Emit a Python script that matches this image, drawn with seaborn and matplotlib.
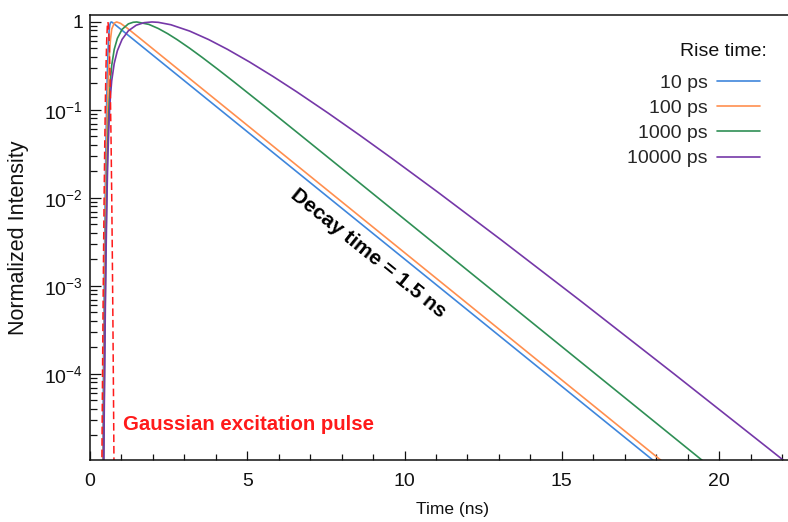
import matplotlib
matplotlib.use("Agg")
import matplotlib.pyplot as plt
import pandas as pd
import seaborn as sns
from matplotlib.ticker import FixedLocator, FixedFormatter, MultipleLocator, LogLocator, NullFormatter

# ---- data (time in ns, normalized intensity) ----
rise_labels = ["10 ps", "100 ps", "1000 ps", "10000 ps"]
colors = ["#3f86dc", "#ff8f4f", "#2f8f55", "#7538a8"]

t_10 = [0.39, 0.41, 0.43, 0.45, 0.47, 0.49, 0.51, 0.53, 0.55, 0.57, 0.59, 0.61,
        0.63, 0.65, 0.676, 0.71, 0.87, 18.57]
i_10 = [1.66e-6, 1.66e-5, 1.29e-4, 7.94e-4, 3.89e-3, 0.0151, 0.0479, 0.1216,
        0.2535, 0.4395, 0.6397, 0.8110, 0.9247, 0.9817, 1.0, 0.9872, 0.8880, 6.67e-6]

t_100 = [0.41, 0.43, 0.45, 0.47, 0.49, 0.51, 0.53, 0.55, 0.57, 0.61, 0.65, 0.69,
         0.77, 0.847, 0.97, 1.17, 1.57, 2.57, 18.57]
i_100 = [3.5e-6, 2.85e-5, 1.845e-4, 9.57e-4, 3.96e-3, 0.0134, 0.0368, 0.0843,
         0.1626, 0.3926, 0.6295, 0.8279, 0.9710, 1.0, 0.9649, 0.8580, 0.6588,
         0.3383, 7.88e-6]

t_1000 = [0.43, 0.45, 0.47, 0.49, 0.51, 0.53, 0.55, 0.57, 0.61, 0.65, 0.69, 0.77,
          0.87, 1.02, 1.22, 1.37, 1.486, 1.87, 2.17, 2.47, 2.77, 3.17, 3.57, 4.07,
          4.57, 5.57, 6.57, 8.07, 12.57, 20.07]
i_1000 = [7.24e-6, 4.68e-5, 2.45e-4, 1.047e-3, 3.60e-3, 0.01023, 0.02427, 0.04898,
          0.1271, 0.2193, 0.3206, 0.4875, 0.6516, 0.8241, 0.9515, 0.9918, 1.0,
          0.9389, 0.8433, 0.7357, 0.6298, 0.5022, 0.3948, 0.2887, 0.2094, 0.1088,
          0.05609, 0.02068, 1.030e-3, 6.94e-6]

t_10000 = [0.43, 0.45, 0.47, 0.49, 0.51, 0.53, 0.55, 0.57, 0.61, 0.65, 0.69, 0.77,
           0.87, 1.02, 1.22, 1.47, 1.72, 1.97, 2.17, 2.57, 3.17, 3.77, 4.37, 5.07,
           5.82, 6.57, 7.57, 8.57, 9.57, 11.07, 13.07, 15.57, 18.57, 21.57, 22.57]
i_10000 = [4.57e-6, 2.95e-5, 1.55e-4, 6.61e-4, 2.29e-3, 6.46e-3, 0.01549, 0.0309,
           0.0818, 0.1445, 0.2143, 0.3373, 0.4710, 0.6339, 0.7943, 0.9190, 0.9820,
           1.0, 0.9905, 0.9301, 0.7874, 0.6314, 0.4885, 0.3512, 0.2401, 0.1609,
           0.09215, 0.05175, 0.02863, 0.01154, 3.338e-3, 6.865e-4, 9.983e-5,
           1.421e-5, 7.39e-6]

t_pulse = [0.374, 0.39, 0.41, 0.43, 0.45, 0.47, 0.49, 0.51, 0.53, 0.55, 0.57,
           0.59, 0.61, 0.63, 0.65, 0.67, 0.69, 0.71, 0.73, 0.75, 0.766]
i_pulse = [6.2e-6, 4.0e-5, 3.36e-4, 2.19e-3, 0.0111, 0.0439, 0.1353, 0.3247,
           0.6065, 0.8825, 1.0, 0.8825, 0.6065, 0.3247, 0.1353, 0.0439, 0.0111,
           2.19e-3, 3.36e-4, 4.0e-5, 6.2e-6]

y_tick_vals = [1e-4, 1e-3, 1e-2, 1e-1, 1]
y_tick_labels = ["$10^{-4}$", "$10^{-3}$", "$10^{-2}$", "$10^{-1}$", "1"]

# ---- build long table ----
frames = []
for lab, t, i in zip(rise_labels, [t_10, t_100, t_1000, t_10000],
                     [i_10, i_100, i_1000, i_10000]):
    frames.append(pd.DataFrame({"Time": t, "Intensity": i, "Rise": lab}))
df = pd.concat(frames, ignore_index=True)
pulse = pd.DataFrame({"Time": t_pulse, "Intensity": i_pulse})

sns.set_theme(style="white")
plt.rcParams["font.family"] = ["Liberation Sans", "DejaVu Sans"]
plt.rcParams["mathtext.fontset"] = "custom"
plt.rcParams["mathtext.rm"] = "Liberation Sans"
plt.rcParams["mathtext.it"] = "Liberation Sans:italic"
plt.rcParams["mathtext.bf"] = "Liberation Sans:bold"

W, H = 788, 522
fig = plt.figure(figsize=(W / 100, H / 100), dpi=100)
ax = fig.add_axes([90 / W, 1 - 460 / H, 698 / W, 445 / H])

sns.lineplot(data=df, x="Time", y="Intensity", hue="Rise", hue_order=rise_labels,
             palette=colors, estimator=None, sort=False, linewidth=1.2, ax=ax,
             legend=False)
sns.lineplot(data=pulse, x="Time", y="Intensity", color="#ff1a1a", estimator=None,
             sort=False, linewidth=1.1, linestyle=(0, (5, 2.5)), ax=ax)

ax.set_yscale("log")
ax.set_xlim(0, 22.19)
ax.set_ylim(1.05e-5, 1.2)

ax.yaxis.set_major_locator(FixedLocator(y_tick_vals))
ax.yaxis.set_major_formatter(FixedFormatter(y_tick_labels))
ax.yaxis.set_minor_locator(LogLocator(base=10, subs=[2, 3, 4, 5, 6, 7, 8, 9], numticks=20))
ax.yaxis.set_minor_formatter(NullFormatter())
ax.xaxis.set_major_locator(MultipleLocator(5))
ax.xaxis.set_minor_locator(MultipleLocator(1))

ax.tick_params(axis="both", which="both", direction="in", colors="#111111",
               labelsize=14, width=0.9, top=False, right=False, left=True, bottom=True)
ax.tick_params(axis="y", which="major", length=8, pad=5)
ax.tick_params(axis="y", which="minor", length=5)
ax.tick_params(axis="x", which="major", length=6.5, pad=9)
ax.tick_params(axis="x", which="minor", length=4.3)

for side in ["left", "bottom", "top"]:
    ax.spines[side].set_visible(True)
    ax.spines[side].set_color("#111111")
    ax.spines[side].set_linewidth(1.1)
ax.spines["right"].set_visible(False)

ax.set_xlabel("Time (ns)", fontsize=12.5, color="#111111")
ax.set_ylabel("Normalized Intensity", fontsize=15.5, color="#111111")
ax.xaxis.set_label_coords(0.519, -0.094)
ax.yaxis.set_label_coords(-0.088, 0.5)

handles = ax.get_lines()[:4]
leg = ax.legend(handles=handles, labels=rise_labels,
                loc="upper right", bbox_to_anchor=(0.9599, 0.867), frameon=False,
                markerfirst=False, fontsize=14,
                handlelength=2.2, handletextpad=0.5, labelspacing=0.39,
                borderpad=0, borderaxespad=0)
ax.text(0.970, 0.9169, "Rise time:", transform=ax.transAxes, ha="right",
        va="center", fontsize=14, color="#111111")

ax.text(8.84, 2.34e-3, "Decay time = 1.5 ns", rotation=-38.9, rotation_mode="anchor",
        ha="center", va="center", fontsize=15, fontweight="bold", color="black")
ax.text(1.04, 2.31e-5, "Gaussian excitation pulse", ha="left", va="baseline",
        fontsize=14.7, fontweight="bold", color="#ff1a1a")

fig.savefig("out.png", dpi=100)
